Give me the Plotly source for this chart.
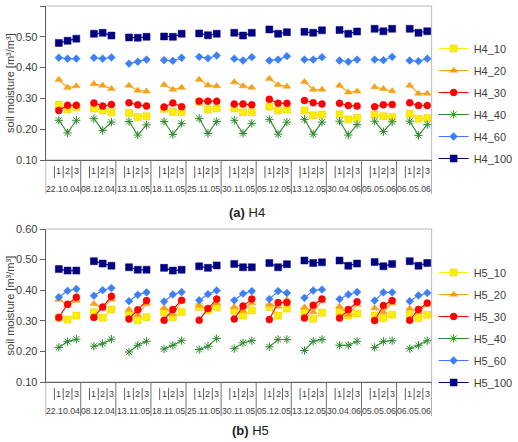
import plotly.graph_objects as go

W, H = 518, 442

dates = ["22.10.04", "08.12.04", "13.11.05", "18.11.05", "25.11.05", "30.11.05",
         "05.12.05", "13.12.05", "30.04.06", "05.05.06", "06.05.06"]
reps = ["1", "2", "3"]

# ---- H4 (top panel) ----
h4_10 = [0.279, 0.264, 0.271, 0.267, 0.261, 0.255, 0.253, 0.240, 0.242, 0.266, 0.256, 0.255,
         0.288, 0.264, 0.268, 0.267, 0.255, 0.255, 0.273, 0.261, 0.264, 0.261, 0.245, 0.248,
         0.248, 0.232, 0.237, 0.248, 0.242, 0.240, 0.250, 0.234, 0.236]
h4_20 = [0.361, 0.335, 0.340, 0.347, 0.342, 0.331, 0.342, 0.326, 0.323, 0.344, 0.329, 0.335,
         0.361, 0.343, 0.340, 0.353, 0.340, 0.335, 0.364, 0.344, 0.339, 0.354, 0.329, 0.329,
         0.342, 0.320, 0.323, 0.337, 0.331, 0.324, 0.342, 0.316, 0.316]
h4_30 = [0.261, 0.278, 0.278, 0.285, 0.275, 0.280, 0.286, 0.279, 0.275, 0.272, 0.285, 0.273,
         0.291, 0.291, 0.291, 0.282, 0.282, 0.279, 0.297, 0.284, 0.284, 0.293, 0.286, 0.282,
         0.284, 0.277, 0.275, 0.273, 0.279, 0.280, 0.286, 0.277, 0.277]
h4_40 = [0.229, 0.188, 0.229, 0.234, 0.196, 0.223, 0.225, 0.181, 0.214, 0.225, 0.183, 0.219,
         0.235, 0.186, 0.225, 0.229, 0.186, 0.219, 0.232, 0.184, 0.223, 0.232, 0.184, 0.223,
         0.226, 0.181, 0.215, 0.226, 0.192, 0.224, 0.226, 0.180, 0.215]
h4_60 = [0.432, 0.429, 0.429, 0.432, 0.429, 0.433, 0.413, 0.419, 0.426, 0.424, 0.422, 0.432,
         0.435, 0.430, 0.439, 0.429, 0.423, 0.434, 0.423, 0.426, 0.437, 0.426, 0.426, 0.434,
         0.423, 0.419, 0.426, 0.426, 0.424, 0.435, 0.423, 0.421, 0.429]
h4_100 = [0.480, 0.487, 0.494, 0.510, 0.513, 0.504, 0.498, 0.497, 0.500, 0.501, 0.500, 0.510,
          0.511, 0.505, 0.510, 0.513, 0.504, 0.513, 0.524, 0.510, 0.515, 0.516, 0.513, 0.521,
          0.522, 0.510, 0.517, 0.526, 0.518, 0.526, 0.526, 0.513, 0.518]

# ---- H5 (bottom panel) ----
h5_10 = [0.310, 0.304, 0.317, 0.328, 0.310, 0.337, 0.320, 0.302, 0.312, 0.328, 0.312, 0.329,
         0.345, 0.334, 0.344, 0.333, 0.317, 0.334, 0.345, 0.317, 0.340, 0.328, 0.307, 0.326,
         0.329, 0.317, 0.324, 0.317, 0.309, 0.320, 0.320, 0.309, 0.320]
h5_20 = [0.370, 0.350, 0.366, 0.356, 0.340, 0.370, 0.337, 0.320, 0.356, 0.342, 0.322, 0.364,
         0.350, 0.337, 0.358, 0.345, 0.333, 0.358, 0.353, 0.347, 0.369, 0.344, 0.329, 0.366,
         0.347, 0.320, 0.353, 0.342, 0.329, 0.358, 0.340, 0.329, 0.353]
h5_30 = [0.311, 0.354, 0.377, 0.311, 0.345, 0.380, 0.306, 0.336, 0.366, 0.302, 0.337, 0.367,
         0.302, 0.340, 0.371, 0.306, 0.348, 0.371, 0.304, 0.360, 0.360, 0.309, 0.351, 0.371,
         0.309, 0.337, 0.362, 0.301, 0.350, 0.366, 0.302, 0.337, 0.358]
h5_40 = [0.213, 0.232, 0.240, 0.217, 0.225, 0.240, 0.198, 0.220, 0.233, 0.208, 0.220, 0.235,
         0.206, 0.217, 0.242, 0.209, 0.228, 0.235, 0.215, 0.239, 0.239, 0.203, 0.233, 0.239,
         0.220, 0.220, 0.233, 0.213, 0.233, 0.235, 0.209, 0.220, 0.235]
h5_60 = [0.377, 0.398, 0.404, 0.382, 0.400, 0.407, 0.364, 0.385, 0.393, 0.363, 0.386, 0.394,
         0.367, 0.387, 0.399, 0.367, 0.389, 0.397, 0.371, 0.397, 0.391, 0.375, 0.399, 0.402,
         0.371, 0.386, 0.394, 0.366, 0.393, 0.393, 0.364, 0.383, 0.391]
h5_100 = [0.469, 0.464, 0.464, 0.495, 0.487, 0.480, 0.475, 0.467, 0.467, 0.473, 0.464, 0.467,
          0.478, 0.473, 0.481, 0.486, 0.475, 0.475, 0.489, 0.475, 0.485, 0.497, 0.489, 0.491,
          0.497, 0.480, 0.487, 0.492, 0.478, 0.486, 0.495, 0.480, 0.489]

FONT = "Liberation Sans, Arial, sans-serif"
TXT = "#404040"

styles = [
    ("10", "#ffee00", "square", 7, "#e6c800"),
    ("20", "#f7a11a", "triangle-up", 7, "#f7a11a"),
    ("30", "#ff0000", "circle", 7, "#ff0000"),
    ("40", "#2e8b2e", "asterisk-open", 7, "#2e8b2e"),
    ("60", "#3d7ff5", "diamond", 6, "#3d7ff5"),
    ("100", "#000080", "square", 7, "#000080"),
]


def xy(vals):
    xs, ys = [], []
    for g in range(len(dates)):
        for k in range(3):
            xs.append(4 * g + k + 1)
            ys.append(vals[3 * g + k])
        xs.append(None)
        ys.append(None)
    return xs, ys


def p2y(py):
    return 1 - py / H


def p2x(px):
    return px / W


fig = go.Figure()

panels = [
    ("H4", [h4_10, h4_20, h4_30, h4_40, h4_60, h4_100], "x", "y", "legend", 6, 160),
    ("H5", [h5_10, h5_20, h5_30, h5_40, h5_60, h5_100], "x2", "y2", "legend2", 229, 382),
]

for name, series, xa, ya, lg, top, bot in panels:
    for (suffix, col, sym, size, edge), vals in zip(styles, series):
        xs, ys = xy(vals)
        if sym == "asterisk-open":
            marker = dict(symbol=sym, size=size, color=col, line=dict(color=col, width=1))
        else:
            marker = dict(symbol=sym, size=size, color=col, line=dict(color=edge, width=0.5))
        fig.add_trace(go.Scatter(
            x=xs, y=ys, mode="lines+markers", name=f"{name}_{suffix}",
            line=dict(color=col, width=1.1), marker=marker,
            xaxis=xa, yaxis=ya, legend=lg, legendgroup=f"{name}_{suffix}",
            connectgaps=False, hoverinfo="x+y+name",
        ))

x0, x1 = 46, 435
layout = dict(
    width=W, height=H, margin=dict(l=0, r=0, t=0, b=0),
    paper_bgcolor="white", plot_bgcolor="white",
    font=dict(family=FONT, color=TXT, size=11),
    showlegend=True,
)
ax_common_x = dict(range=[-0.5, 43.5], showgrid=False, zeroline=False, showticklabels=False,
                   ticks="", showline=True, linecolor="#606060", linewidth=1,
                   domain=[p2x(x0), p2x(x1)], fixedrange=True)
ax_common_y = dict(range=[0.1, 0.6], dtick=0.1, tickformat=".2f", showgrid=False, zeroline=False,
                   ticks="outside", ticklen=5, tickcolor="#606060", showline=True,
                   linecolor="#606060", linewidth=1, tickfont=dict(size=11, color=TXT),
                   automargin=False, fixedrange=True)
layout["xaxis"] = dict(ax_common_x, anchor="y")
layout["yaxis"] = dict(ax_common_y, anchor="x", domain=[p2y(160), p2y(6)])
layout["xaxis2"] = dict(ax_common_x, anchor="y2")
layout["yaxis2"] = dict(ax_common_y, anchor="x2", domain=[p2y(382), p2y(229)])

for lg, ytop in (("legend", 34), ("legend2", 258)):
    layout[lg] = dict(x=p2x(437), y=p2y(ytop), xanchor="left", yanchor="top",
                      font=dict(size=11, color=TXT), tracegroupgap=3,
                      bgcolor="rgba(0,0,0,0)", itemwidth=30)
fig.update_layout(**layout)

shapes = []
annotations = []
for name, series, xa, ya, lg, top, bot in panels:
    # light frame (top/right)
    shapes.append(dict(type="rect", xref="paper", yref="paper",
                       x0=p2x(x0), x1=p2x(x1), y0=p2y(bot), y1=p2y(top),
                       line=dict(color="#b8b8b8", width=1), layer="below"))
    # category tick structure
    for g in range(len(dates) + 1):
        xb = 4 * g - 0.5
        shapes.append(dict(type="line", xref=xa, yref="paper", x0=xb, x1=xb,
                           y0=p2y(bot), y1=p2y(bot + 34), line=dict(color="#707070", width=1)))
    for g in range(len(dates)):
        for k in range(3):
            xt = 4 * g + k + 0.5
            shapes.append(dict(type="line", xref=xa, yref="paper", x0=xt, x1=xt,
                               y0=p2y(bot + 6), y1=p2y(bot + 18),
                               line=dict(color="#606060", width=1)))
            annotations.append(dict(text=reps[k], x=4 * g + k + 1, xref=xa, y=p2y(bot + 11.5),
                                    yref="paper", showarrow=False, xanchor="center",
                                    yanchor="middle", font=dict(size=9, color=TXT)))
        annotations.append(dict(text=dates[g], x=4 * g + 1.5, xref=xa, y=p2y(bot + 29),
                                yref="paper", showarrow=False, xanchor="center",
                                yanchor="middle", font=dict(size=8.7, color=TXT)))
    # y-axis title
    annotations.append(dict(text="soil moisture [m³/m³]", x=p2x(10), y=p2y((top + bot) / 2),
                            xref="paper", yref="paper", showarrow=False, textangle=-90,
                            xanchor="center", yanchor="middle", font=dict(size=11, color=TXT)))

annotations.append(dict(text="<b>(a)</b> H4", x=p2x(249), y=p2y(212), xref="paper", yref="paper",
                        showarrow=False, xanchor="center", yanchor="middle",
                        font=dict(size=13, color="#222")))
annotations.append(dict(text="<b>(b)</b> H5", x=p2x(252), y=p2y(430), xref="paper", yref="paper",
                        showarrow=False, xanchor="center", yanchor="middle",
                        font=dict(size=13, color="#222")))

fig.update_layout(shapes=shapes, annotations=annotations)
fig.write_html("out.html")
